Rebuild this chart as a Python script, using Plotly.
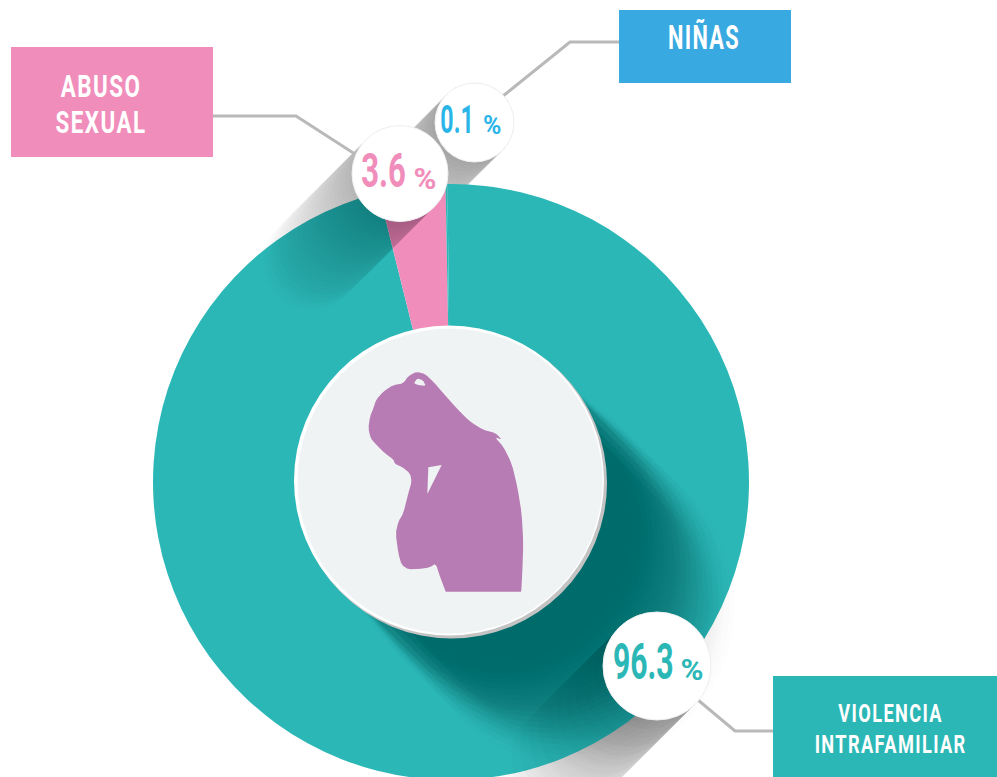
import json
import math
import plotly.graph_objects as go

categories = ["Violencia intrafamiliar", "Abuso sexual", "Niñas"]
values = [96.3, 3.6, 0.1]
value_labels = ["96.3", "3.6", "0.1"]
box_labels = ["VIOLENCIA<br>INTRAFAMILIAR", "ABUSO<br>SEXUAL", "NIÑAS"]

W, H = 997, 800
TEAL, PINK, BLUE = "#2CB7B7", "#F08DBB", "#38A9E1"
FONT = "Roboto"
GRAY = "#BAB9B9"

def X(x): return x / W
def Y(y): return 1 - y / H

def path(points):
    return "M" + " L".join(f"{X(x):.5f},{Y(y):.5f}" for x, y in points) + " Z"

def poly(points, fill, layer="above"):
    return dict(type="path", path=path(points), xref="paper", yref="paper",
                fillcolor=fill, line=dict(width=0), layer=layer)

def circle(cx, cy, r, fill, line=None, layer="above"):
    return dict(type="circle", xref="paper", yref="paper",
                x0=X(cx - r), x1=X(cx + r), y0=Y(cy + r), y1=Y(cy - r),
                fillcolor=fill, layer=layer,
                line=dict(width=1, color=line) if line else dict(width=0))

def stadium(cx, cy, r, dx, dy, L, r_back=None, n=40):
    rb = r if r_back is None else min(r, r_back)
    a0 = math.atan2(dy, dx)
    pts = []
    for i in range(n + 1):
        a = a0 - math.pi / 2 + math.pi * i / n
        pts.append((cx + L * dx + r * math.cos(a), cy + L * dy + r * math.sin(a)))
    for i in range(n + 1):
        a = a0 + math.pi / 2 + math.pi * i / n
        pts.append((cx + rb * math.cos(a), cy + rb * math.sin(a)))
    return pts

def shadow(cx, cy, radii, direction, L0, Lmax, peak, layer="above", n=24, r_back=None, rgb="0,0,0"):
    s = 1 / math.sqrt(2)
    dx, dy = direction[0] * s, direction[1] * s
    total = n * len(radii)
    a = 1 - (1 - peak) ** (1 / total)
    out = []
    for r in radii:
        for i in range(n):
            L = L0 + (Lmax - L0) * (i + 1) / n
            out.append(poly(stadium(cx, cy, r, dx, dy, L, r_back), f"rgba({rgb},{a:.5f})", layer))
    return out

def polyline(points):
    d = "M" + " L".join(f"{X(x):.5f},{Y(y):.5f}" for x, y in points)
    return dict(type="path", path=d, xref="paper", yref="paper",
                line=dict(color=GRAY, width=3), layer="above")

def rect(x0, y0, x1, y1, fill):
    return dict(type="rect", xref="paper", yref="paper", x0=X(x0), x1=X(x1),
                y0=Y(y1), y1=Y(y0), fillcolor=fill, line=dict(width=0), layer="above")

def zoomed(pts):
    return [(340 + x / 3, 350 + y / 3) for x, y in pts]

def chaikin(pts, k=0.2):
    out = []
    for i, p in enumerate(pts):
        q = pts[(i + 1) % len(pts)]
        out.append((p[0] + k * (q[0] - p[0]), p[1] + k * (q[1] - p[1])))
        out.append((q[0] - k * (q[0] - p[0]), q[1] - k * (q[1] - p[1])))
    return out

silhouette = chaikin(zoomed([(190,100),(205,78),(230,65),(255,72),(280,95),(310,130),(350,175),(390,215),
    (430,240),(465,248),(485,268),(483,267),(465,262),(490,290),(515,340),(532,410),(545,490),(550,580),
    (547,665),(544,720),(543,725),(540,725),(320,725),(317,725),(315,720),(300,680),(287,640),(270,652),
    (235,657),(205,658),(185,645),(175,610),(167,550),(175,515),(190,490),(205,430),(215,395),(210,370),
    (185,350),(165,342),(160,328),(135,310),(110,285),(92,265),(85,235),(90,200),(100,175),(108,150),
    (130,125),(160,105)]))
hole_a = chaikin(zoomed([(222,100),(232,85),(248,90),(258,108),(235,105)]))
hole_b = zoomed([(265,352),(305,345),(262,432)])

shapes = []
shapes += shadow(474.5, 122.5, [39.5], (-1, 1), 0, 110, 0.30, layer="below")
shapes += shadow(657, 666, [54], (-1, 1), 0, 150, 0.26, layer="below")
shapes += shadow(451, 482, [160, 155, 150, 145, 140, 135], (1, 1), 50, 175, 0.33, n=8,
                 r_back=150, rgb="45,25,25")
shapes += shadow(400, 173.5, [48], (-1, 1), 0, 125, 0.22, rgb="40,20,20")
shapes += shadow(657, 666, [54], (-1, 1), 0, 130, 0.11, n=10)
shapes += [polyline([(213, 116), (296, 116), (358, 156)]),
           polyline([(619, 42), (570, 42), (503, 96)]),
           polyline([(773, 731), (735, 731), (698, 700)])]
shapes += [rect(11, 47, 213, 157, PINK), rect(619, 10, 791, 83, BLUE), rect(773, 676, 997, 777, TEAL)]
shapes += [circle(451.5, 483, 155.5, "#C4C3C3"), circle(449, 480.5, 155, "#FFFFFF"),
           circle(450, 481, 152.5, "#F0F3F4")]
shapes += [poly(silhouette, "#B77CB3"), poly(hole_a, "#F0F3F4"), poly(hole_b, "#F0F3F4")]
shapes += [circle(474.5, 122.5, 39.5, "#FFFFFF", "#F0F0F0"),
           circle(400, 173.5, 48, "#FFFFFF", "#F0F0F0"),
           circle(657, 666, 54, "#FFFFFF", "#F0F0F0")]

def ann(x, y, text, size, color):
    return dict(x=X(x), y=Y(y), xref="paper", yref="paper", text=text, showarrow=False,
                xanchor="center", yanchor="middle", align="center",
                font=dict(family=FONT, size=size, color=color, weight="bold"))

WHITE = "#FFFFFF"
# x, y, text, font size, colour, drawn width, letter spacing, line gap
texts = [
    (643, 661.7, value_labels[0], 50, TEAL, 60.7, 0, 0),
    (691.7, 669, "%", 30, TEAL, 23, 0, 0),
    (383.3, 170.7, value_labels[1], 48, PINK, 44.7, 0, 0),
    (424.7, 178, "%", 30, PINK, 23, 0, 0),
    (456.7, 120, value_labels[2], 39, "#29B5E8", 33.3, 0, 0),
    (491.5, 125, "%", 25, "#29B5E8", 18.4, 0, 0),
    (890, 729.7, box_labels[0], 26.5, WHITE, 152, 2, 31.2),
    (100.8, 106, box_labels[1], 30.5, WHITE, 91, 2, 36.3),
    (704, 37, box_labels[2], 34, WHITE, 72, 2, 0),
]
annotations = [ann(t[0], t[1], t[2], t[3], t[4]) for t in texts]
widths = [t[5] for t in texts]
spacing = [t[6] for t in texts]
gaps = [t[7] for t in texts]

R = 298
cx, cy = 451, 482
fig = go.Figure(go.Pie(
    labels=categories, values=values, sort=False, direction="clockwise", rotation=-0.69,
    hole=0.5, textinfo="none", showlegend=False,
    marker=dict(colors=[TEAL, PINK, TEAL], line=dict(width=0)),
    domain=dict(x=[X(cx - R), X(cx + R)], y=[Y(cy + R), Y(cy - R)]),
))
fig.update_layout(width=W, height=H, margin=dict(l=0, r=0, t=0, b=0), showlegend=False,
                  paper_bgcolor="#FFFFFF", plot_bgcolor="#FFFFFF",
                  shapes=shapes, annotations=annotations)

post = """
document.documentElement.style.overflow='hidden';
document.body.style.overflow='hidden';
document.body.style.margin='0';
(function(){
  var gd=document.getElementById('{plot_id}');
  var w=%s, sp=%s, gap=%s;
  function fit(){
    gd.querySelectorAll('text.annotation-text').forEach(function(el,i){
      if(sp[i]) el.style.letterSpacing=sp[i]+'px';
      if(gap[i]) el.querySelectorAll('tspan.line').forEach(function(t,k){ t.setAttribute('dy',(k*gap[i])+'px'); });
      var b=el.getBBox(), c=b.x+b.width/2, s=w[i]/b.width;
      el.setAttribute('transform','translate('+c+',0) scale('+s+',1) translate('+(-c)+',0)');
    });
  }
  fit(); setTimeout(fit,100); setTimeout(fit,500);
})();
""" % (json.dumps(widths), json.dumps(spacing), json.dumps(gaps))
fig.write_html("out.html", config=dict(displayModeBar=False), post_script=post)
